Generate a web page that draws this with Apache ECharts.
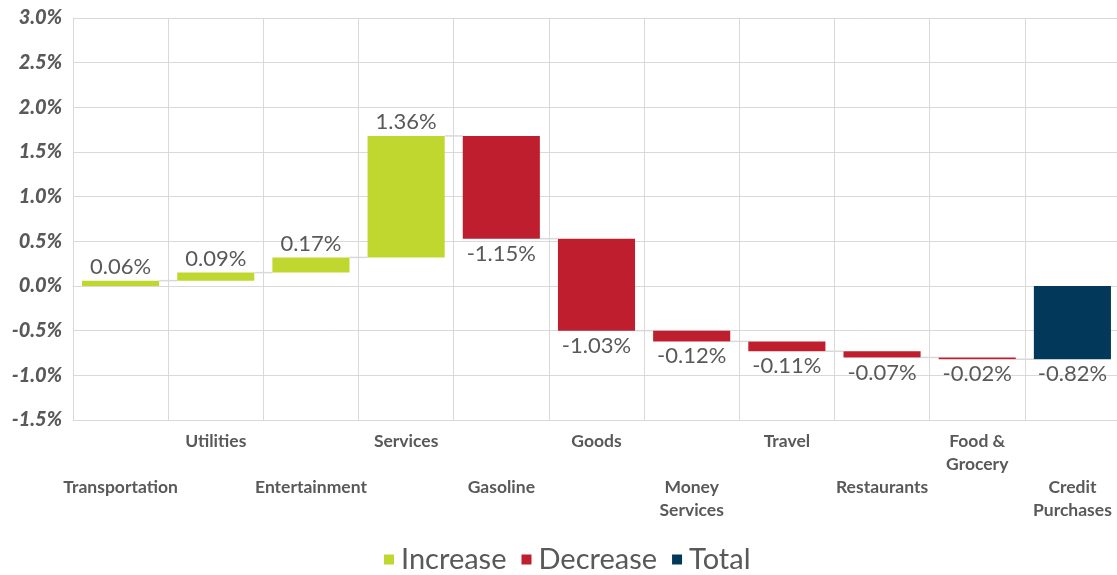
<!DOCTYPE html>
<html>
<head>
<meta charset="utf-8">
<script src="https://cdn.jsdelivr.net/npm/echarts@6/dist/echarts.min.js"></script>
<style>html,body{margin:0;padding:0;background:#fff}#c{width:1117px;height:575px}</style>
</head>
<body>
<div id="c"></div>
<script>
const categories = ['Transportation','Utilities','Entertainment','Services','Gasoline','Goods','Money\nServices','Travel','Restaurants','Food &\nGrocery','Credit\nPurchases'];
const changes = [0.06, 0.09, 0.17, 1.36, -1.15, -1.03, -0.12, -0.11, -0.07, -0.02];
const totalValue = -0.82;
const yTicks = { min: -1.5, max: 3.0, interval: 0.5 };

const COLORS = { inc: '#C0D72F', dec: '#BE1E2D', tot: '#02395A' };
const TXT = '#595959';
const FONT = 'Lato, "Open Sans", sans-serif';

// build waterfall stacks from the data
const base = [], inc = [], dec = [], tot = [], levels = [];
let cum = 0;
changes.forEach((d) => {
  const start = cum, end = +(cum + d).toFixed(4);
  base.push(Math.min(start, end));
  inc.push(d > 0 ? d : 0);
  dec.push(d < 0 ? -d : 0);
  tot.push(0);
  levels.push(end);
  cum = end;
});
base.push(Math.min(0, totalValue));
inc.push(0); dec.push(0);
tot.push(Math.abs(totalValue));

const BAR_FRAC = 0.81;
const connectorData = levels.map((lv, i) => [i, lv]);

const chart = echarts.init(document.getElementById('c'));
chart.setOption({
  animation: false,
  textStyle: { fontFamily: FONT },
  grid: { left: 73, right: -3, top: 18, bottom: 155, containLabel: false, outerBoundsMode: 'none' },
  legend: {
    data: ['Increase', 'Decrease', 'Total'],
    top: 540, left: 379,
    icon: 'rect', itemWidth: 10, itemHeight: 10, itemGap: 15,
    textStyle: { fontSize: 29, color: TXT, fontFamily: FONT, padding: [0, 0, 0, 2] }
  },
  xAxis: {
    type: 'category', data: categories,
    axisTick: { show: false },
    axisLine: { show: true, lineStyle: { color: '#d9d9d9', width: 1 } },
    splitLine: { show: true, lineStyle: { color: '#d9d9d9', width: 1 } },
    axisLabel: {
      interval: 0, margin: 10,
      color: TXT, fontWeight: 'bold', fontSize: 17.5, lineHeight: 23, fontFamily: FONT,
      formatter: (v, i) => (i % 2 === 0 ? '\n\n' : '') + v
    }
  },
  yAxis: {
    type: 'value', min: yTicks.min, max: yTicks.max, interval: yTicks.interval,
    axisLine: { show: true, lineStyle: { color: '#d9d9d9' } },
    axisTick: { show: false },
    splitLine: { show: true, lineStyle: { color: '#d9d9d9', width: 1 } },
    axisLabel: {
      color: TXT, fontWeight: 900, fontStyle: 'italic', fontSize: 20, margin: 11, fontFamily: FONT,
      formatter: (v) => v.toFixed(1) + '%'
    }
  },
  series: [
    {
      name: 'base', type: 'bar', stack: 'w', stackStrategy: 'all', data: base,
      barCategoryGap: '19%', silent: true,
      itemStyle: { color: 'transparent' }, emphasis: { disabled: true }
    },
    {
      name: 'Increase', type: 'bar', stack: 'w', stackStrategy: 'all', data: inc,
      itemStyle: { color: COLORS.inc },
      label: { show: true, position: 'top', distance: 3, color: TXT, fontSize: 22, fontFamily: FONT,
        formatter: (p) => p.value ? p.value.toFixed(2) + '%' : '' }
    },
    {
      name: 'Decrease', type: 'bar', stack: 'w', stackStrategy: 'all', data: dec,
      itemStyle: { color: COLORS.dec },
      label: { show: true, position: 'bottom', distance: 4, color: TXT, fontSize: 22, fontFamily: FONT,
        formatter: (p) => p.value ? '-' + p.value.toFixed(2) + '%' : '' }
    },
    {
      name: 'Total', type: 'bar', stack: 'w', stackStrategy: 'all', data: tot,
      itemStyle: { color: COLORS.tot },
      label: { show: true, position: 'bottom', distance: 4, color: TXT, fontSize: 22, fontFamily: FONT,
        formatter: (p) => p.value ? totalValue.toFixed(2) + '%' : '' }
    },
    {
      name: 'connectors', type: 'custom', data: connectorData, silent: true, z: 1,
      renderItem: (params, api) => {
        const i = api.value(0), lv = api.value(1);
        const half = api.size([1, 0])[0] * BAR_FRAC / 2;
        const a = api.coord([i, lv]);
        const b = api.coord([i + 1, lv]);
        return {
          type: 'line',
          shape: { x1: a[0] + half, y1: a[1], x2: b[0] - half, y2: b[1] },
          style: { stroke: '#d9d9d9', lineWidth: 1.5 }
        };
      }
    }
  ]
});
</script>
</body>
</html>
